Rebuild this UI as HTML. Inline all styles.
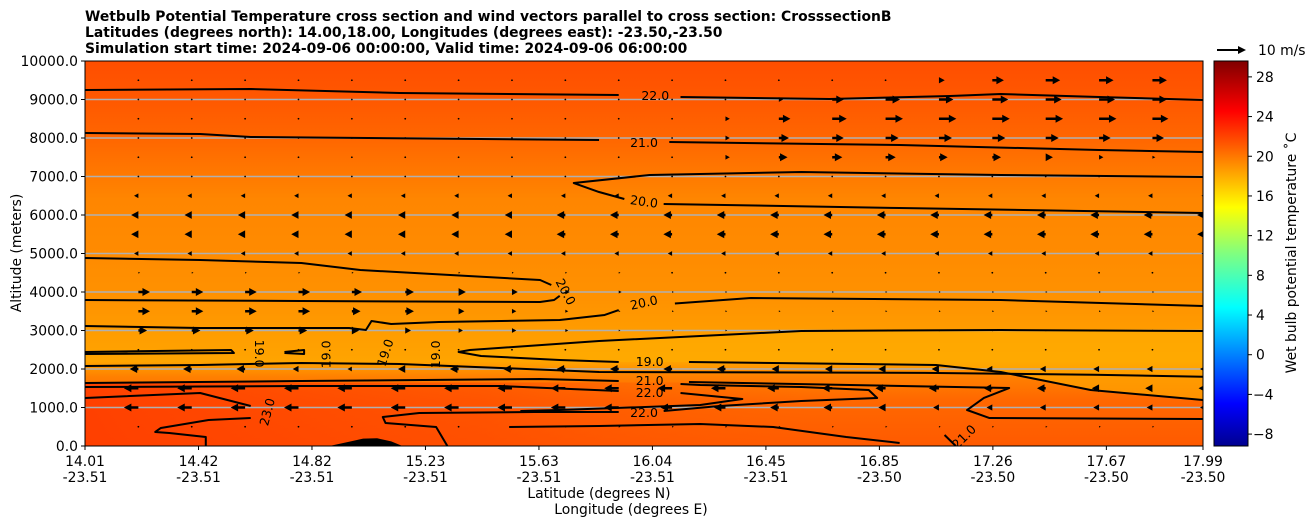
<!DOCTYPE html>
<html><head><meta charset="utf-8">
<style>
html,body{margin:0;padding:0;background:#fff;}
svg{display:block;font-family:"DejaVu Sans","Liberation Sans",sans-serif;}
</style></head>
<body>
<svg id="chart" width="1311" height="526" viewBox="0 0 1311 526" xmlns="http://www.w3.org/2000/svg">
<defs>
<linearGradient id="bg" x1="0" y1="0" x2="0" y2="1">
<stop offset="0" stop-color="#ff4e00"/><stop offset="0.1" stop-color="#ff5800"/>
<stop offset="0.2" stop-color="#ff6600"/><stop offset="0.3" stop-color="#ff7a00"/>
<stop offset="0.36" stop-color="#ff8600"/><stop offset="0.5" stop-color="#ff8b00"/>
<stop offset="0.62" stop-color="#ff9200"/><stop offset="0.7" stop-color="#ff9c00"/>
<stop offset="0.78" stop-color="#ffa400"/><stop offset="0.82" stop-color="#ff8000"/>
<stop offset="0.88" stop-color="#ff6800"/><stop offset="1" stop-color="#ff5a00"/>
</linearGradient>
<linearGradient id="redfade" x1="0" y1="0" x2="1" y2="0">
<stop offset="0" stop-color="#ff3c00" stop-opacity="0.9"/><stop offset="0.55" stop-color="#ff4800" stop-opacity="0.6"/>
<stop offset="1" stop-color="#ff5a00" stop-opacity="0"/>
</linearGradient>
<linearGradient id="jet" x1="0" y1="1" x2="0" y2="0">
<stop offset="0" stop-color="#00008f"/><stop offset="0.11" stop-color="#0000ff"/>
<stop offset="0.36" stop-color="#00ffff"/><stop offset="0.5" stop-color="#80ff80"/>
<stop offset="0.62" stop-color="#ffff00"/><stop offset="0.87" stop-color="#ff0000"/>
<stop offset="1" stop-color="#800000"/>
</linearGradient>
<clipPath id="plotclip"><rect x="85" y="61" width="1118" height="385"/></clipPath>
</defs>
<g id="plot" clip-path="url(#plotclip)">
<rect x="85" y="61" width="1118" height="385" fill="url(#bg)"/>
<g id="fills"></g>
<g id="grid"></g>
<g id="contours"></g>
<g id="arrows"></g>
</g>
<rect x="85" y="61" width="1118" height="385" fill="none" stroke="#000" stroke-width="1"/>
<g id="axes"></g>
<text x="85" y="21" font-size="13.9" font-weight="bold">Wetbulb Potential Temperature cross section and wind vectors parallel to cross section: CrosssectionB</text>
<text x="85" y="37" font-size="13.9" font-weight="bold">Latitudes (degrees north): 14.00,18.00, Longitudes (degrees east): -23.50,-23.50</text>
<text x="85" y="53" font-size="13.9" font-weight="bold">Simulation start time: 2024-09-06 00:00:00, Valid time: 2024-09-06 06:00:00</text>
<text transform="translate(21,253) rotate(-90)" text-anchor="middle" font-size="13.9">Altitude (meters)</text>
<text x="599" y="498" text-anchor="middle" font-size="13.9">Latitude (degrees N)</text>
<text x="631" y="514" text-anchor="middle" font-size="13.9">Longitude (degrees E)</text>
<rect x="1214" y="61" width="34" height="385" fill="url(#jet)" stroke="#000" stroke-width="1"/>
<g id="cbticks"></g>
<text transform="translate(1296,253) rotate(-90)" text-anchor="middle" font-size="13.9">Wet bulb potential temperature ˚C</text>
<g>
<polygon points="1217,49 1238,49 1238,46 1246,50 1238,54 1238,51 1217,51" fill="#000"/>
<text x="1258" y="55" font-size="13.9">10 m/s</text>
</g>
</svg>
<script>
// ---- data ----
const altTicks = [0,1000,2000,3000,4000,5000,6000,7000,8000,9000,10000];
const latTickLabels = ["14.01","14.42","14.82","15.23","15.63","16.04","16.45","16.85","17.26","17.67","17.99"];
const lonTickLabels = ["-23.51","-23.51","-23.51","-23.51","-23.51","-23.51","-23.51","-23.50","-23.50","-23.50","-23.50"];
const latTickValues = [14.01,14.414,14.818,15.222,15.626,16.03,16.434,16.838,17.242,17.646,17.99];
const cbTicks = [-8,-4,0,4,8,12,16,20,24,28];
const cbMin = -9.2, cbMax = 29.6;
const windLats = [14.20,14.39,14.58,14.77,14.96,15.15,15.34,15.53,15.72,15.91,16.10,16.29,16.48,16.67,16.86,17.05,17.24,17.43,17.62,17.81,18.00];
const windAlts = [500,1000,1500,2000,2500,3000,3500,4000,4500,5000,5500,6000,6500,7000,7500,8000,8500,9000,9500];
const windU500  = [0,0,0,0,0,0,0,0.6,0.6,0.6,0.6,0.6,0.6,0.6,0.6,0.6,0.6,0.6,0.6,0.6,0.6];
const windU1000 = [-5,-5,-5,-5,-5,-5,-5,-5,-5,-5,-4,-4,-3,-3,-2.5,-2,-2,-2,-2,-2,-2];
const windU1500 = [-5,-5,-5,-5,-5,-5,-5,-5,-5,-5,-5,-5,-4,-3.5,-3.5,-3.5,-3,-3,-2.5,-2.5,-2.5];
const windU2000 = [-3,-3,-3,-2,-1.5,-2.5,-3,-3,-3,-3,-3,-3,-2.5,-2.5,-2.5,-2.5,-2,-2,-2,-2,-2];
const windU2500 = [0.3,0.3,0.3,0.3,0.3,0.3,0.3,0.3,0.3,0.3,0.3,0.3,0.3,0.3,0.3,0.3,0.3,0.3,0.3,0.3,0.3];
const windU3000 = [3,3,3,3,2.5,2,1.5,1.5,1,0.6,0.6,0.6,0.6,0.6,0.6,0.6,0.6,0.6,0.6,0.6,0.6];
const windU3500 = [4,4,4,4,3,3,2,1.5,1,0.6,0.6,0.6,0.6,0.6,0.6,0.6,0.6,0.6,0.6,0.6,0.6];
const windU4000 = [4,4,4,4,3.5,3,2.5,2,1.5,1,0.6,0.6,0.6,0.6,0.6,0.6,0.6,0.6,0.6,0.6,0.6];
const windU4500 = [0.6,0.6,0.6,0.6,0.6,0.6,0.6,0.6,0.6,0.6,0.3,0.3,0.3,0.3,0.3,0.3,0.3,0.3,0.3,0.3,0.3];
const windU5000 = [-1.5,-1.5,-1.5,-1.5,-1.5,-1.5,-1.5,-1.5,-1.5,-1.5,-1.5,-1.5,-1.5,-1.5,-1.5,-1.5,-1.5,-1.5,-1.5,-1.5,-1.5];
const windU5500 = [-2.5,-2.5,-2.5,-2.5,-2.5,-2.5,-2.5,-2.5,-3,-3,-3,-3,-3,-3,-3,-3,-3,-3,-3,-3,-3];
const windU6000 = [-2.5,-2.5,-2.5,-2.5,-2.5,-2.5,-2.5,-2.5,-3,-3,-3,-3,-3,-3,-3,-3,-3,-3,-3,-3,-3];
const windU6500 = [-1.5,-1.5,-1.5,-1.5,-1.5,-1.5,-1.5,-1.5,-1.5,-1.5,-1.5,-1.5,-1.5,-1.5,-1.5,-1.5,-1.5,-1.5,-1.5,-1.5,-1.5];
const windU7000 = [0.3,0.3,0.3,0.3,0.3,0.3,0.3,0.3,0.3,0.3,0.3,0.3,0.3,0.3,0.3,0.3,0.3,0.3,0.3,0.3,0.3];
const windU7500 = [0.3,0.3,0.3,0.3,0.3,0.3,0.3,0.3,0.3,0.3,0.3,1.5,3,3.5,3.5,3,3,2.5,1.5,1,1];
const windU8000 = [0.3,0.3,0.3,0.3,0.3,0.3,0.3,0.3,0.3,0.3,0.3,1.5,3.5,4,4.5,4.5,4.5,4.5,4,4,4];
const windU8500 = [0.3,0.3,0.3,0.3,0.3,0.3,0.3,0.3,0.3,0.3,0.3,1.5,4,5,6,6,6,6,6,5.5,5.5];
const windU9000 = [0.3,0.3,0.3,0.3,0.3,0.3,0.3,0.3,0.3,0.3,0.3,0.3,1.5,4,5,5,5.5,5.5,5.5,5,5];
const windU9500 = [0.3,0.3,0.3,0.3,0.3,0.3,0.3,0.3,0.3,0.3,0.3,0.3,0.3,0.3,0.3,2,4,5,5,5,5];
const windRows = [windU500,windU1000,windU1500,windU2000,windU2500,windU3000,windU3500,windU4000,windU4500,windU5000,windU5500,windU6000,windU6500,windU7000,windU7500,windU8000,windU8500,windU9000,windU9500];
const terrain = [[14.88,0],[14.95,110],[15.00,190],[15.05,200],[15.10,120],[15.14,0]];
const contourSegs = [
 [[14.01,9247],[14.60,9273],[15.13,9169],[15.91,9117]],
 [[16.13,9065],[16.66,9013],[17.09,9091],[17.27,9143],[17.62,9065],[17.99,8987]],
 [[14.01,8130],[14.42,8104],[14.60,8026],[15.84,7948]],
 [[16.09,7896],[16.91,7818],[17.62,7688],[17.99,7636]],
 [[17.99,6987],[17.27,7039],[16.56,7117],[16.02,7039],[15.75,6831],[15.84,6597],[15.93,6416]],
 [[16.07,6286],[16.91,6182],[17.99,6052]],
 [[14.01,4883],[14.42,4831],[14.78,4753],[14.99,4571],[15.31,4442],[15.63,4312],[15.67,4182]],
 [[15.70,3900],[15.68,3792],[15.63,3740],[14.78,3766],[14.01,3792]],
 [[14.01,3117],[14.42,3065],[14.95,3065],[15.01,3013],[15.03,3247],[15.10,3169],[15.27,3221],[15.70,3273],[15.86,3403],[15.91,3532]],
 [[16.11,3700],[16.38,3844],[17.27,3792],[17.99,3636]],
 [[17.99,2987],[17.27,3013],[16.56,2987],[15.84,2727],[15.38,2494],[15.34,2442],[15.42,2338],[15.70,2234],[15.91,2182]],
 [[16.16,2182],[17.04,2104],[17.27,1922],[17.59,1455],[17.99,1195]],
 [[14.01,2442],[14.53,2494],[14.54,2416],[14.01,2390]],
 [[14.72,2442],[14.79,2494],[14.79,2390],[14.72,2416]],
 [[14.01,2078],[14.42,2104],[14.78,2156],[15.13,2130],[15.49,2026],[15.84,1922],[17.0,1900],[17.6,1850],[17.99,1800]],
 [[14.01,1636],[14.78,1688],[15.63,1740],[15.91,1688]],
 [[16.16,1662],[17.30,1506],[17.21,1247],[17.15,935],[17.23,727],[17.99,701]],
 [[14.01,1532],[14.78,1558],[15.49,1558],[15.91,1429]],
 [[16.13,1377],[16.35,1221],[16.20,1065],[15.70,935],[15.56,909]],
 [[15.30,0],[15.26,494],[15.08,597],[15.07,753],[15.20,857],[15.61,883],[15.91,883]],
 [[16.07,909],[16.27,1039],[16.56,1169],[16.83,1247],[16.80,1455],[16.56,1532],[16.20,1584],[16.13,1610]],
 [[15.52,494],[15.84,519],[16.20,571],[16.46,494],[16.72,234],[16.91,78]],
 [[17.07,286],[17.11,0]],
 [[14.01,1247],[14.42,1377],[14.60,1039]],
 [[14.60,727],[14.45,675],[14.28,468],[14.26,364],[14.31,338],[14.44,234],[14.44,0]]
];
const contourLabels = [
 ["22.0",16.04,9091,0],["21.0",16.00,7870,0],["20.0",16.00,6338,8],
 ["20.0",15.72,4000,62],["20.0",16.00,3714,-12],["19.0",16.02,2182,0],
 ["21.0",16.02,1688,0],["22.0",16.02,1377,0],["22.0",16.00,857,0],
 ["21.0",17.14,234,-45],["23.0",14.66,883,-75],
 ["19.0",14.63,2400,90],["19.0",14.87,2380,-90],["19.0",15.08,2420,-72],["19.0",15.26,2380,-90]
];
// ---- axis functions ----
const X = lat => 85 + (lat - 14.01) / 3.98 * 1118;
const Y = alt => 446 - alt * 0.0385;
const CY = v => 446 - (v - cbMin) / (cbMax - cbMin) * 385;
const NS = "http://www.w3.org/2000/svg";
function mk(tag, parent){ const e=document.createElementNS(NS,tag); parent.appendChild(e); return e; }

const fills = document.getElementById('fills');
const redZone = mk('rect', fills);


redZone.setAttribute('x',X(14.01)); redZone.setAttribute('y',Y(1650));
redZone.setAttribute('width',X(16.6)-X(14.01)); redZone.setAttribute('height',Y(0)-Y(1650));
redZone.setAttribute('fill','url(#redfade)');
const yellow = mk('polygon', fills);


const yPts = contourSegs[10].concat(contourSegs[11]);
yellow.setAttribute('points', yPts.map(p=>X(p[0])+','+Y(p[1])).join(' '));
yellow.setAttribute('fill','#ffae00'); yellow.setAttribute('opacity','0.6');

const grid = document.getElementById('grid');
altTicks.forEach(a=>{
  if(a===0||a===10000) return;
  const l = mk('line', grid);
  
  
  l.setAttribute('x1',85); l.setAttribute('x2',1203);
  l.setAttribute('y1',Y(a)); l.setAttribute('y2',Y(a));
  l.setAttribute('stroke','#b0b0b0'); l.setAttribute('stroke-width','1.5');
});

const cg = document.getElementById('contours');
contourSegs.forEach((seg,i)=>{
  const p = mk('polyline', cg);
  
  
  p.setAttribute('points', seg.map(q=>X(q[0])+','+Y(q[1])).join(' '));
  p.setAttribute('fill','none'); p.setAttribute('stroke','#000');
  p.setAttribute('stroke-width','2'); p.setAttribute('stroke-linejoin','round');
});
contourLabels.forEach(l=>{
  const t = mk('text', cg);
  
  
  t.setAttribute('transform','translate('+X(l[1])+','+Y(l[2])+') rotate('+l[3]+')');
  t.setAttribute('text-anchor','middle'); t.setAttribute('dy','4');
  t.setAttribute('font-size','12.5'); t.textContent = l[0];
});
const ter = mk('polygon', cg);


ter.setAttribute('points', terrain.map(q=>X(q[0])+','+Y(q[1])).join(' '));
ter.setAttribute('fill','#000');

const ag = document.getElementById('arrows');
const pxPerMs = 2.9;
windRows.forEach((row,r)=>{
  row.forEach((u,c)=>{
    const x0 = X(windLats[c]), y0 = Y(windAlts[r]);
    const L = u*pxPerMs, a = Math.abs(L), s = Math.sign(L)||1;
    if(a < 1.2){
      const d = mk('circle', ag);
      
      
      d.setAttribute('cx',x0); d.setAttribute('cy',y0); d.setAttribute('r',0.9); d.setAttribute('fill','#000');
      return;
    }
    let sw=1.3, hw=4, hl=7.5;
    let k = 1;
    if(a < hl){ k = a/hl; }
    sw*=k; hw*=k; const h=hl*k;
    const shaftEnd = a - h;
    const pts = [[0,-sw],[shaftEnd,-sw],[shaftEnd,-hw],[a,0],[shaftEnd,hw],[shaftEnd,sw],[0,sw]];
    const p = mk('polygon', ag);
    
    
    p.setAttribute('points', pts.map(q=>(x0+s*q[0])+','+(y0+q[1])).join(' '));
    p.setAttribute('fill','#000');
  });
});

const ax = document.getElementById('axes');
altTicks.forEach(a=>{
  const t = mk('line', ax);
  
  
  t.setAttribute('x1',81); t.setAttribute('x2',85); t.setAttribute('y1',Y(a)); t.setAttribute('y2',Y(a));
  t.setAttribute('stroke','#000');
  const tx = mk('text', ax);
  
  
  tx.setAttribute('x',78); tx.setAttribute('y',Y(a)+5);
  tx.setAttribute('text-anchor','end'); tx.setAttribute('font-size','13.9');
  tx.textContent = a.toFixed(1);
});
latTickValues.forEach((v,i)=>{
  const x = X(v);
  const t = mk('line', ax);
  
  
  t.setAttribute('x1',x); t.setAttribute('x2',x); t.setAttribute('y1',446); t.setAttribute('y2',450);
  t.setAttribute('stroke','#000');
  const a = mk('text', ax);
  
  
  a.setAttribute('x',x); a.setAttribute('y',466); a.setAttribute('text-anchor','middle'); a.setAttribute('font-size','13.9');
  a.textContent = latTickLabels[i];
  const b = mk('text', ax);
  
  
  b.setAttribute('x',x); b.setAttribute('y',482); b.setAttribute('text-anchor','middle'); b.setAttribute('font-size','13.9');
  b.textContent = lonTickLabels[i];
});
const cb = document.getElementById('cbticks');
cbTicks.forEach(v=>{
  const y = CY(v);
  const t = mk('line', cb);
  
  
  t.setAttribute('x1',1248); t.setAttribute('x2',1252); t.setAttribute('y1',y); t.setAttribute('y2',y);
  t.setAttribute('stroke','#000');
  const tx = mk('text', cb);
  
  
  tx.setAttribute('x',v<0?1253:1256); tx.setAttribute('y',y+5); tx.setAttribute('font-size','13.9');
  tx.textContent = v<0 ? '\u2212'+Math.abs(v) : String(v);
});
</script>
</body></html>
